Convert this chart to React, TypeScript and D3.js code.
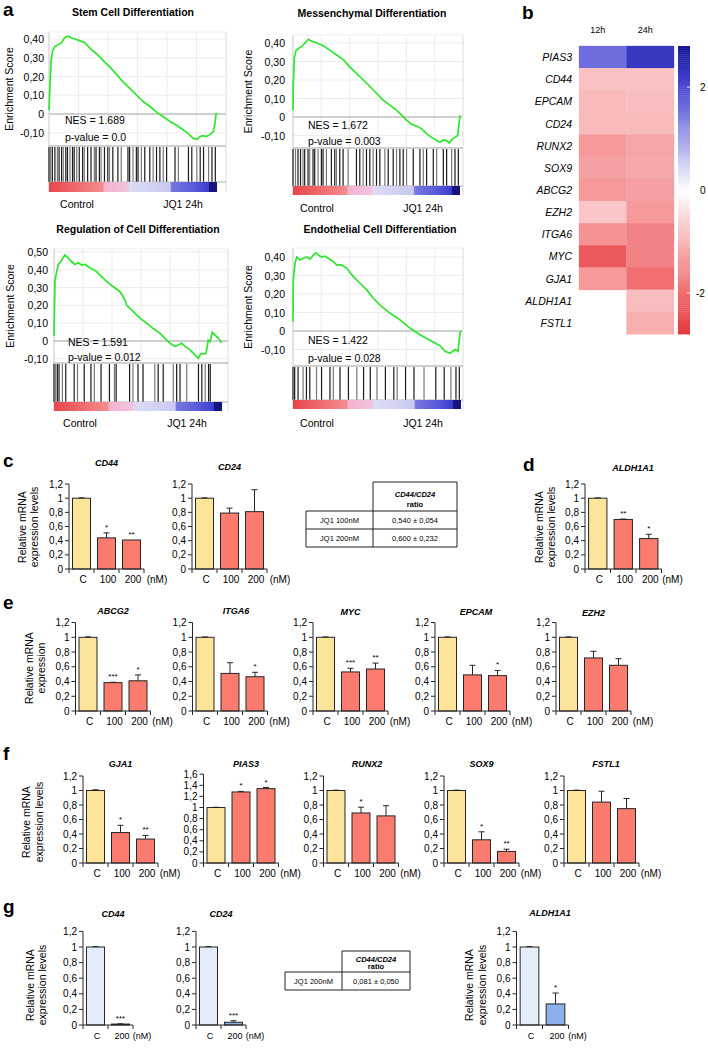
import React from "react";
import * as d3 from "d3";

const FONT = "'Liberation Sans', Arial, Helvetica, sans-serif";

// ---------------- Panel a : GSEA running enrichment scores ----------------
const stemRank = [0, 0.006, 0.012, 0.022, 0.036, 0.056, 0.075, 0.095, 0.115, 0.135, 0.155, 0.185, 0.214, 0.244, 0.284, 0.323, 0.363, 0.403, 0.442, 0.482, 0.522, 0.562, 0.601, 0.641, 0.681, 0.72, 0.76, 0.8, 0.829, 0.859, 0.883, 0.899, 0.919, 0.938, 0.958, 0.978, 0.988, 0.994, 1.0];
const stemES = [0.02, 0.16, 0.28, 0.34, 0.36, 0.37, 0.38, 0.41, 0.415, 0.405, 0.40, 0.39, 0.38, 0.35, 0.32, 0.285, 0.25, 0.21, 0.17, 0.135, 0.10, 0.065, 0.04, 0.01, -0.015, -0.04, -0.06, -0.085, -0.105, -0.13, -0.135, -0.12, -0.115, -0.12, -0.11, -0.095, -0.05, 0.0, 0.005];
const stemHits = [0, 0.01, 0.02, 0.035, 0.05, 0.06, 0.075, 0.085, 0.1, 0.11, 0.125, 0.14, 0.15, 0.165, 0.18, 0.2, 0.21, 0.23, 0.25, 0.27, 0.28, 0.3, 0.31, 0.33, 0.35, 0.36, 0.38, 0.41, 0.43, 0.47, 0.48, 0.5, 0.52, 0.53, 0.55, 0.57, 0.6, 0.62, 0.64, 0.66, 0.68, 0.7, 0.75, 0.77, 0.83, 0.85, 0.88, 0.9, 0.92, 0.95, 0.97, 0.99];

const messRank = [0, 0.002, 0.008, 0.018, 0.032, 0.052, 0.072, 0.092, 0.112, 0.142, 0.182, 0.222, 0.261, 0.301, 0.341, 0.381, 0.421, 0.461, 0.501, 0.541, 0.581, 0.621, 0.651, 0.681, 0.711, 0.741, 0.771, 0.8, 0.83, 0.86, 0.88, 0.9, 0.92, 0.936, 0.95, 0.97, 0.986, 0.994, 1.0];
const messES = [0.036, 0.18, 0.32, 0.36, 0.37, 0.38, 0.40, 0.42, 0.41, 0.40, 0.385, 0.36, 0.335, 0.31, 0.27, 0.235, 0.2, 0.165, 0.127, 0.09, 0.064, 0.036, 0.01, -0.018, -0.04, -0.05, -0.064, -0.09, -0.11, -0.127, -0.136, -0.124, -0.127, -0.14, -0.124, -0.11, -0.1, -0.036, 0.01];
const messHits = [0, 0.015, 0.03, 0.045, 0.06, 0.07, 0.09, 0.1, 0.12, 0.13, 0.15, 0.17, 0.18, 0.2, 0.23, 0.25, 0.26, 0.28, 0.3, 0.33, 0.38, 0.4, 0.42, 0.44, 0.46, 0.48, 0.5, 0.52, 0.55, 0.57, 0.6, 0.62, 0.64, 0.66, 0.68, 0.72, 0.76, 0.78, 0.8, 0.84, 0.86, 0.9, 0.92, 0.95, 0.97, 0.99];

const regRank = [0, 0.003, 0.006, 0.016, 0.026, 0.036, 0.046, 0.065, 0.085, 0.105, 0.125, 0.145, 0.165, 0.185, 0.204, 0.234, 0.254, 0.274, 0.314, 0.353, 0.393, 0.423, 0.433, 0.472, 0.512, 0.552, 0.591, 0.631, 0.671, 0.69, 0.72, 0.74, 0.76, 0.78, 0.81, 0.839, 0.859, 0.875, 0.889, 0.905, 0.918, 0.929, 0.942, 0.958, 0.978, 0.998];
const regES = [0.03, 0.2, 0.34, 0.39, 0.43, 0.44, 0.455, 0.483, 0.466, 0.445, 0.43, 0.44, 0.427, 0.43, 0.417, 0.40, 0.39, 0.37, 0.333, 0.305, 0.277, 0.23, 0.20, 0.165, 0.128, 0.10, 0.07, 0.043, 0.005, -0.013, -0.03, -0.022, -0.013, -0.03, -0.05, -0.078, -0.097, -0.07, -0.073, -0.07, 0.005, -0.004, 0.049, 0.034, 0.015, -0.01];
const regHits = [0, 0.01, 0.02, 0.03, 0.05, 0.07, 0.12, 0.14, 0.18, 0.22, 0.24, 0.28, 0.33, 0.36, 0.37, 0.45, 0.47, 0.5, 0.53, 0.6, 0.62, 0.65, 0.71, 0.73, 0.75, 0.79, 0.86, 0.88, 0.9, 0.92, 0.93];

const endoRank = [0, 0.002, 0.012, 0.022, 0.042, 0.061, 0.082, 0.101, 0.121, 0.137, 0.151, 0.171, 0.19, 0.21, 0.24, 0.26, 0.29, 0.32, 0.359, 0.399, 0.439, 0.478, 0.518, 0.577, 0.637, 0.696, 0.756, 0.815, 0.875, 0.905, 0.935, 0.964, 0.982, 0.994, 1];
const endoES = [0.05, 0.276, 0.366, 0.40, 0.384, 0.393, 0.40, 0.388, 0.41, 0.423, 0.41, 0.40, 0.405, 0.393, 0.375, 0.357, 0.357, 0.339, 0.294, 0.258, 0.222, 0.177, 0.14, 0.097, 0.06, 0.016, -0.02, -0.05, -0.08, -0.11, -0.12, -0.10, -0.11, -0.01, 0];
const endoHits = [0, 0.005, 0.01, 0.03, 0.06, 0.08, 0.1, 0.14, 0.17, 0.22, 0.24, 0.28, 0.33, 0.38, 0.42, 0.46, 0.5, 0.55, 0.6, 0.62, 0.67, 0.72, 0.78, 0.85, 0.9, 0.94, 0.97, 0.99];

const bandOffsets = [0, 0.32, 0.33, 0.47, 0.48, 0.72, 0.73, 0.86, 0.95, 0.955, 1];
const bandColors = ["#e8454b", "#f38d8f", "#f4b3cf", "#f1c3dd", "#dcdcf6", "#c9c9f1", "#7676e0", "#5a5ad9", "#3c3cce", "#14147c", "#14147c"];

// ---------------- Panel b : heatmap ----------------
const heatGenes = ["PIAS3", "CD44", "EPCAM", "CD24", "RUNX2", "SOX9", "ABCG2", "EZH2", "ITGA6", "MYC", "GJA1", "ALDH1A1", "FSTL1"];
const heatCols = ["12h", "24h"];
const heat12 = [1.6, -0.85, -0.95, -0.95, -1.4, -1.3, -1.4, -0.8, -1.5, -2.3, -1.4, null, null];
const heat24 = [2.3, -0.85, -0.9, -0.95, -1.25, -1.2, -1.3, -1.4, -1.7, -1.7, -2.0, -0.9, -1.1];
const heatDomain = [-2.8, -2, 0, 2, 2.8];
const heatRange = ["#e5383e", "#f06d70", "#ffffff", "#4a4ad6", "#16169a"];
const heatTicks = [2, 0, -2];

// ---------------- Bar panels c-g ----------------
const dose3 = ["C", "100", "200"];
const dose2 = ["C", "200"];

const cd44cVals = [1, 0.44, 0.41], cd44cErr = [0.005, 0.07, 0], cd44cStars = ["", "*", "**"];
const cd24cVals = [1, 0.79, 0.81], cd24cErr = [0.005, 0.07, 0.31], cd24cStars = ["", "", ""];
const aldhdVals = [1, 0.70, 0.43], aldhdErr = [0.005, 0.005, 0.06], aldhdStars = ["", "**", "*"];

const abcg2Vals = [1, 0.385, 0.41], abcg2Err = [0.005, 0.005, 0.08], abcg2Stars = ["", "***", "*"];
const itga6Vals = [1, 0.51, 0.465], itga6Err = [0.005, 0.145, 0.06], itga6Stars = ["", "", "*"];
const mycVals = [1, 0.53, 0.57], mycErr = [0.005, 0.05, 0.08], mycStars = ["", "***", "**"];
const epcamVals = [1, 0.49, 0.48], epcamErr = [0.005, 0.13, 0.07], epcamStars = ["", "", "*"];
const ezh2Vals = [1, 0.72, 0.62], ezh2Err = [0.005, 0.09, 0.09], ezh2Stars = ["", "", ""];

const gja1Vals = [1, 0.42, 0.33], gja1Err = [0.01, 0.1, 0.05], gja1Stars = ["", "*", "**"];
const pias3Vals = [1, 1.28, 1.34], pias3Err = [0.005, 0.01, 0.02], pias3Stars = ["", "*", "*"];
const runx2Vals = [1, 0.69, 0.65], runx2Err = [0.005, 0.08, 0.14], runx2Stars = ["", "*", ""];
const sox9Vals = [1, 0.32, 0.16], sox9Err = [0.005, 0.11, 0.03], sox9Stars = ["", "*", "**"];
const fstl1Vals = [1, 0.84, 0.75], fstl1Err = [0.005, 0.15, 0.14], fstl1Stars = ["", "", ""];

const cd44gVals = [1, 0.012], cd44gErr = [0.005, 0.003], cd44gStars = ["", "***"];
const cd24gVals = [1, 0.035], cd24gErr = [0.005, 0.02], cd24gStars = ["", "***"];
const aldhgVals = [1, 0.27], aldhgErr = [0.005, 0.14], aldhgStars = ["", "*"];

const tableCRows = ["JQ1 100nM", "JQ1 200nM"];
const tableCVals = ["0,540 ± 0,054", "0,600 ± 0,232"];
const tableGRows = ["JQ1 200nM"];
const tableGVals = ["0,081 ± 0,050"];

const YELLOW = "#fde49b";
const RED = "#fb7b6e";
const PALE = "#e6edfa";
const BLUE = "#8db0ea";

function fmtES(v: number) {
  if (Math.abs(v) < 1e-9) return "0";
  return d3.format(".2f")(v).replace(".", ",").replace("−", "-");
}
function fmtBar(v: number) {
  if (Math.abs(v) < 1e-9) return "0";
  return String(+v.toFixed(1)).replace(".", ",");
}

function Gsea(p: any) {
  const x = d3.scaleLinear().domain([0, 1]).range([p.left, p.right]);
  const y = d3.scaleLinear().domain([0, 0.1]).range([p.zeroY, p.zeroY - p.pxPerTenth]);
  const path = d3.line<number>().x((_, i) => x(p.rank[i])).y((d) => y(d))(p.es) || "";
  const gid = "band-" + p.id;
  const vgrid = d3.range(1, 6).map((k) => p.left + (k * (p.frameRight - p.left)) / 6);
  return (
    <g fontFamily={FONT}>
      <defs>
        <linearGradient id={gid} x1="0" x2="1" y1="0" y2="0">
          {bandOffsets.map((o, i) => (
            <stop key={i} offset={o} stopColor={bandColors[i]} />
          ))}
        </linearGradient>
      </defs>
      <text x={p.titleX} y={p.titleY} textAnchor="middle" fontWeight="bold" fontSize={10.5}>{p.title}</text>
      {p.ticks.map((t: number) => (
        <line key={"h" + t} x1={p.left} x2={p.frameRight} y1={y(t)} y2={y(t)} stroke="#ededed" />
      ))}
      {vgrid.map((gx: number) => (
        <line key={"v" + gx} x1={gx} x2={gx} y1={p.top} y2={p.bottom} stroke="#ededed" />
      ))}
      <line x1={p.left} x2={p.frameRight} y1={p.top} y2={p.top} stroke="#ededed" />
      <line x1={p.left} x2={p.frameRight} y1={y(0)} y2={y(0)} stroke="#a8a8a8" />
      <line x1={p.left} x2={p.left} y1={p.top} y2={p.bandBottom} stroke="#c8c8c8" />
      <line x1={p.frameRight} x2={p.frameRight} y1={p.top} y2={p.bandBottom} stroke="#dddddd" />
      <line x1={p.left} x2={p.frameRight} y1={p.bottom} y2={p.bottom} stroke="#a0a0a0" />
      {p.hits.map((h: number, i: number) => (
        <line key={"b" + i} x1={x(h)} x2={x(h)} y1={p.bottom + 1} y2={p.barcodeBottom} stroke={i % 3 === 1 ? "#777" : "#1a1a1a"} strokeWidth={1.2} />
      ))}
      <line x1={p.left} x2={p.frameRight} y1={p.barcodeBottom} y2={p.barcodeBottom} stroke="#b0b0b0" />
      <rect x={p.left} y={p.barcodeBottom} width={p.right - p.left} height={p.bandBottom - p.barcodeBottom} fill={`url(#${gid})`} />
      {p.ticks.map((t: number) => (
        <text key={"t" + t} x={p.tickRight} y={y(t) + 4} textAnchor="end" fontSize={10.5}>{fmtES(t)}</text>
      ))}
      <path d={path} fill="none" stroke="#2ee62e" strokeWidth={1.7} />
      <text x={p.nesX} y={p.nesY} fontSize={10.5}>{p.nes}</text>
      <text x={p.nesX} y={p.pvalY} fontSize={10.5}>{p.pval}</text>
      <text x={p.controlX} y={p.labelY} textAnchor="middle" fontSize={10.5}>Control</text>
      <text x={p.jq1X} y={p.labelY} textAnchor="middle" fontSize={10.5}>JQ1 24h</text>
      <text transform={`translate(${p.ylabelX},${(p.top + p.bottom) / 2}) rotate(-90)`} textAnchor="middle" dominantBaseline="middle" fontSize={10.5}>Enrichment Score</text>
    </g>
  );
}

function Heatmap() {
  const y = d3.scaleBand<string>().domain(heatGenes).range([46, 334]);
  const x = d3.scaleBand<string>().domain(heatCols).range([579, 674]);
  const color = d3.scaleLinear<string>().domain(heatDomain).range(heatRange);
  const cb = d3.scaleLinear().domain([2.8, -2.8]).range([46, 334]);
  const steps = d3.range(-2.8, 2.8, 0.04);
  const cols: (number | null)[][] = [heat12, heat24];
  return (
    <g fontFamily={FONT}>
      {heatCols.map((c, ci) =>
        heatGenes.map((g, gi) => {
          const v = cols[ci][gi];
          if (v === null) return null;
          return <rect key={c + g} x={x(c)} y={y(g)} width={x.bandwidth()} height={y.bandwidth() + 0.3} fill={color(v)} stroke={color(v)} strokeWidth={0.3} />;
        })
      )}
      {heatCols.map((c) => (
        <text key={c} x={x(c)! + x.bandwidth() / 2 - 5} y={33} textAnchor="middle" fontSize={9}>{c}</text>
      ))}
      {heatGenes.map((g) => (
        <text key={g} x={572} y={y(g)! + y.bandwidth() / 2 + 4} textAnchor="end" fontStyle="italic" fontSize={10.5}>{g}</text>
      ))}
      {steps.map((s, i) => (
        <rect key={i} x={678} y={cb(s + 0.04)} width={12} height={cb(s) - cb(s + 0.04) + 0.4} fill={color(s + 0.02)} />
      ))}
      {heatTicks.map((t) => (
        <g key={t}>
          <line x1={687} x2={690} y1={cb(t)} y2={cb(t)} stroke="#ffffff" strokeWidth={1} opacity={0.8} />
          <text x={t < 0 ? 696 : 700} y={cb(t) + 4} fontSize={10}>{t < 0 ? "-" + Math.abs(t) : String(t)}</text>
        </g>
      ))}
    </g>
  );
}

function BarChart(p: any) {
  const n = p.cats.length;
  const xEnd = p.x0 + n * p.step;
  const x = d3.scaleBand<string>().domain(p.cats).range([p.x0, xEnd]).paddingInner(0.28).paddingOuter(0.14);
  const y = d3.scaleLinear().domain([0, p.ymax]).range([p.y0, p.y0 - p.ymax * p.pxPerUnit]);
  const ticks = d3.range(0, p.ymax + 1e-6, p.tickStep);
  const fs = p.fontSize ?? 10;
  const bw = x.bandwidth();
  const dark = "#262626";
  return (
    <g fontFamily={FONT}>
      <text x={p.titleX ?? (p.x0 + xEnd) / 2} y={p.titleY} textAnchor="middle" fontWeight="bold" fontStyle="italic" fontSize={9}>{p.title}</text>
      {p.cats.map((c: string, i: number) => {
        const bx = x(c)!;
        const v = p.vals[i];
        const e = p.errs[i];
        const top = y(v + e);
        return (
          <g key={c}>
            <rect x={bx} y={y(v)} width={bw} height={y(0) - y(v)} fill={p.fills[i]} stroke={dark} strokeWidth={1} />
            {e > 0 && (
              <g stroke={dark} strokeWidth={1}>
                <line x1={bx + bw / 2} x2={bx + bw / 2} y1={y(v)} y2={top} />
                <line x1={bx + bw / 2 - 3} x2={bx + bw / 2 + 3} y1={top} y2={top} />
              </g>
            )}
            {p.stars[i] && (
              <text x={bx + bw / 2} y={top - 3} textAnchor="middle" fontSize={8}>{p.stars[i]}</text>
            )}
            <text x={bx + bw / 2 + 1.5} y={p.y0 + 14} textAnchor="middle" fontSize={fs}>{c}</text>
          </g>
        );
      })}
      <text x={xEnd + (p.nmDx ?? 12)} y={p.y0 + 14} textAnchor="middle" fontSize={fs}>(nM)</text>
      <line x1={p.x0} x2={xEnd} y1={p.y0} y2={p.y0} stroke={dark} />
      {d3.range(0, n + 1).map((k) => (
        <line key={"xt" + k} x1={p.x0 + k * p.step} x2={p.x0 + k * p.step} y1={p.y0} y2={p.y0 + 4} stroke={dark} />
      ))}
      <line x1={p.x0} x2={p.x0} y1={p.y0} y2={y(p.ymax)} stroke={dark} />
      {ticks.map((t: number) => (
        <g key={"yt" + t}>
          <line x1={p.x0 - 4} x2={p.x0} y1={y(t)} y2={y(t)} stroke={dark} />
          <text x={p.x0 - 6} y={y(t) + 3.5} textAnchor="end" fontSize={10}>{fmtBar(t)}</text>
        </g>
      ))}
    </g>
  );
}

function YLabel2({ x1, x2, cy, l1, l2 }: any) {
  return (
    <g fontFamily={FONT} fontSize={10.5}>
      <text transform={`translate(${x1},${cy}) rotate(-90)`} textAnchor="middle" dominantBaseline="middle">{l1}</text>
      <text transform={`translate(${x2},${cy}) rotate(-90)`} textAnchor="middle" dominantBaseline="middle">{l2}</text>
    </g>
  );
}

function RatioTable({ x0, x1, x2, yTop, yHead, rowH, rows, vals }: any) {
  const yEnd = yHead + rows.length * rowH;
  const h = yHead - yTop;
  return (
    <g fontFamily={FONT} fontSize={7.5} stroke="none">
      <line x1={x1} x2={x2} y1={yTop} y2={yTop} stroke="#222" />
      <line x1={x1} x2={x1} y1={yTop} y2={yEnd} stroke="#222" />
      <line x1={x2} x2={x2} y1={yTop} y2={yEnd} stroke="#222" />
      <line x1={x0} x2={x0} y1={yHead} y2={yEnd} stroke="#222" />
      {d3.range(0, rows.length + 1).map((k) => (
        <line key={k} x1={x0} x2={x2} y1={yHead + k * rowH} y2={yHead + k * rowH} stroke="#222" />
      ))}
      <text x={(x1 + x2) / 2} y={yTop + h * 0.5} textAnchor="middle" fontWeight="bold" fontStyle="italic">CD44/CD24</text>
      <text x={(x1 + x2) / 2} y={yTop + h * 0.86} textAnchor="middle" fontWeight="bold">ratio</text>
      {rows.map((r: string, i: number) => (
        <g key={r}>
          <text x={(x0 + x1) / 2} y={yHead + i * rowH + rowH / 2 + 3} textAnchor="middle">{r}</text>
          <text x={(x1 + x2) / 2} y={yHead + i * rowH + rowH / 2 + 3} textAnchor="middle">{vals[i]}</text>
        </g>
      ))}
    </g>
  );
}

function Letter({ x, y, t }: any) {
  return <text x={x} y={y} fontFamily={FONT} fontWeight="bold" fontSize={19}>{t}</text>;
}

export default function App() {
  const f3 = [YELLOW, RED, RED];
  const f2 = [PALE, BLUE];
  return (
    <svg width={708} height={1048} style={{ position: "absolute", left: 0, top: 0 }}>
      <rect width={708} height={1048} fill="#ffffff" />
      <Letter x={3} y={16} t="a" />
      <Gsea id="g1" title="Stem Cell Differentiation" titleX={133} titleY={16} left={49} right={217} frameRight={226} top={32} bottom={146} zeroY={114} pxPerTenth={18.75} ticks={[0.4, 0.3, 0.2, 0.1, 0, -0.1]} rank={stemRank} es={stemES} hits={stemHits} barcodeBottom={182} bandBottom={192} nes="NES = 1.689" pval="p-value = 0.0" nesX={65} nesY={124} pvalY={141} labelY={208} controlX={77} jq1X={183} ylabelX={10} tickRight={44} />
      <Gsea id="g2" title="Messenchymal Differentiation" titleX={372} titleY={17} left={293} right={460} frameRight={463} top={35} bottom={148} zeroY={117} pxPerTenth={18.5} ticks={[0.4, 0.3, 0.2, 0.1, 0, -0.1]} rank={messRank} es={messES} hits={messHits} barcodeBottom={186} bandBottom={195} nes="NES = 1.672" pval="p-value = 0.003" nesX={308} nesY={129} pvalY={145} labelY={212} controlX={317} jq1X={423} ylabelX={249} tickRight={285} />
      <Gsea id="g3" title="Regulation of Cell Differentiation" titleX={138} titleY={233} left={54} right={222} frameRight={228} top={249} bottom={363} zeroY={341} pxPerTenth={17.8} ticks={[0.5, 0.4, 0.3, 0.2, 0.1, 0, -0.1]} rank={regRank} es={regES} hits={regHits} barcodeBottom={402} bandBottom={411} nes="NES = 1.591" pval="p-value = 0.012" nesX={68} nesY={346} pvalY={361} labelY={427} controlX={80} jq1X={187} ylabelX={11} tickRight={48} />
      <Gsea id="g4" title="Endothelial Cell Differentiation" titleX={380} titleY={233} left={293} right={461} frameRight={463} top={248} bottom={366} zeroY={331} pxPerTenth={18.5} ticks={[0.4, 0.3, 0.2, 0.1, 0, -0.1]} rank={endoRank} es={endoES} hits={endoHits} barcodeBottom={400} bandBottom={409} nes="NES = 1.422" pval="p-value = 0.028" nesX={308} nesY={344} pvalY={362} labelY={427} controlX={317} jq1X={423} ylabelX={249} tickRight={285} />

      <Letter x={522} y={19} t="b" />
      <Heatmap />

      <Letter x={3} y={467} t="c" />
      <YLabel2 x1={23} x2={35} cy={527} l1="Relative mRNA" l2="expression levels" />
      <BarChart title="CD44" titleY={466} x0={69} step={25} y0={569} pxPerUnit={70.8} ymax={1.2} tickStep={0.2} cats={dose3} vals={cd44cVals} errs={cd44cErr} stars={cd44cStars} fills={f3} nmDx={13} />
      <BarChart title="CD24" titleY={470} x0={192} step={25} y0={569} pxPerUnit={70.8} ymax={1.2} tickStep={0.2} cats={dose3} vals={cd24cVals} errs={cd24cErr} stars={cd24cStars} fills={f3} nmDx={13} />
      <RatioTable x0={306} x1={373} x2={457} yTop={482} yHead={511} rowH={18} rows={tableCRows} vals={tableCVals} />

      <Letter x={523} y={471} t="d" />
      <YLabel2 x1={540} x2={552} cy={527} l1="Relative mRNA" l2="expression levels" />
      <BarChart title="ALDH1A1" titleY={471} titleX={633} x0={585} step={25.5} y0={569} pxPerUnit={70.8} ymax={1.2} tickStep={0.2} cats={dose3} vals={aldhdVals} errs={aldhdErr} stars={aldhdStars} fills={f3} nmDx={11} />

      <Letter x={3} y={609} t="e" />
      <YLabel2 x1={30} x2={42} cy={668} l1="Relative mRNA" l2="expression" />
      <BarChart title="ABCG2" titleY={614} x0={75.5} step={25} y0={711} pxPerUnit={73.7} ymax={1.2} tickStep={0.2} cats={dose3} vals={abcg2Vals} errs={abcg2Err} stars={abcg2Stars} fills={f3} />
      <BarChart title="ITGA6" titleY={614} titleX={236} x0={192.5} step={25} y0={711} pxPerUnit={73.7} ymax={1.2} tickStep={0.2} cats={dose3} vals={itga6Vals} errs={itga6Err} stars={itga6Stars} fills={f3} />
      <BarChart title="MYC" titleY={615} x0={313} step={25} y0={711} pxPerUnit={73.7} ymax={1.2} tickStep={0.2} cats={dose3} vals={mycVals} errs={mycErr} stars={mycStars} fills={f3} />
      <BarChart title="EPCAM" titleY={615} titleX={476} x0={435} step={25} y0={711} pxPerUnit={73.7} ymax={1.2} tickStep={0.2} cats={dose3} vals={epcamVals} errs={epcamErr} stars={epcamStars} fills={f3} />
      <BarChart title="EZH2" titleY={616} x0={556} step={25} y0={711} pxPerUnit={73.7} ymax={1.2} tickStep={0.2} cats={dose3} vals={ezh2Vals} errs={ezh2Err} stars={ezh2Stars} fills={f3} />

      <Letter x={3} y={760} t="f" />
      <YLabel2 x1={27} x2={40} cy={822} l1="Relative mRNA" l2="expression levels" />
      <BarChart title="GJA1" titleY={767} x0={83} step={25} y0={863} pxPerUnit={72.5} ymax={1.2} tickStep={0.2} cats={dose3} vals={gja1Vals} errs={gja1Err} stars={gja1Stars} fills={f3} />
      <BarChart title="PIAS3" titleY={767} titleX={246} x0={203.5} step={25} y0={863} pxPerUnit={55.5} ymax={1.6} tickStep={0.2} cats={dose3} vals={pias3Vals} errs={pias3Err} stars={pias3Stars} fills={f3} />
      <BarChart title="RUNX2" titleY={767} titleX={367} x0={323.5} step={25} y0={863} pxPerUnit={72.5} ymax={1.2} tickStep={0.2} cats={dose3} vals={runx2Vals} errs={runx2Err} stars={runx2Stars} fills={f3} />
      <BarChart title="SOX9" titleY={767} x0={444} step={25} y0={863} pxPerUnit={72.5} ymax={1.2} tickStep={0.2} cats={dose3} vals={sox9Vals} errs={sox9Err} stars={sox9Stars} fills={f3} />
      <BarChart title="FSTL1" titleY={767} titleX={606} x0={564} step={25} y0={863} pxPerUnit={72.5} ymax={1.2} tickStep={0.2} cats={dose3} vals={fstl1Vals} errs={fstl1Err} stars={fstl1Stars} fills={f3} />

      <Letter x={3} y={913} t="g" />
      <YLabel2 x1={31} x2={43} cy={985} l1="Relative mRNA" l2="expression levels" />
      <BarChart title="CD44" titleY={917} titleX={113} x0={83} step={25} y0={1025} pxPerUnit={78} ymax={1.2} tickStep={0.2} cats={dose2} vals={cd44gVals} errs={cd44gErr} stars={cd44gStars} fills={f2} fontSize={9} nmDx={9} />
      <BarChart title="CD24" titleY={917} x0={196} step={25} y0={1025} pxPerUnit={78} ymax={1.2} tickStep={0.2} cats={dose2} vals={cd24gVals} errs={cd24gErr} stars={cd24gStars} fills={f2} fontSize={9} nmDx={9} />
      <RatioTable x0={285} x1={342} x2={410} yTop={951} yHead={972} rowH={18} rows={tableGRows} vals={tableGVals} />
      <YLabel2 x1={470} x2={483} cy={985} l1="Relative mRNA" l2="expression levels" />
      <BarChart title="ALDH1A1" titleY={916} titleX={550} x0={516.5} step={26} y0={1025} pxPerUnit={78} ymax={1.2} tickStep={0.2} cats={dose2} vals={aldhgVals} errs={aldhgErr} stars={aldhgStars} fills={f2} fontSize={9} nmDx={9} />
    </svg>
  );
}
